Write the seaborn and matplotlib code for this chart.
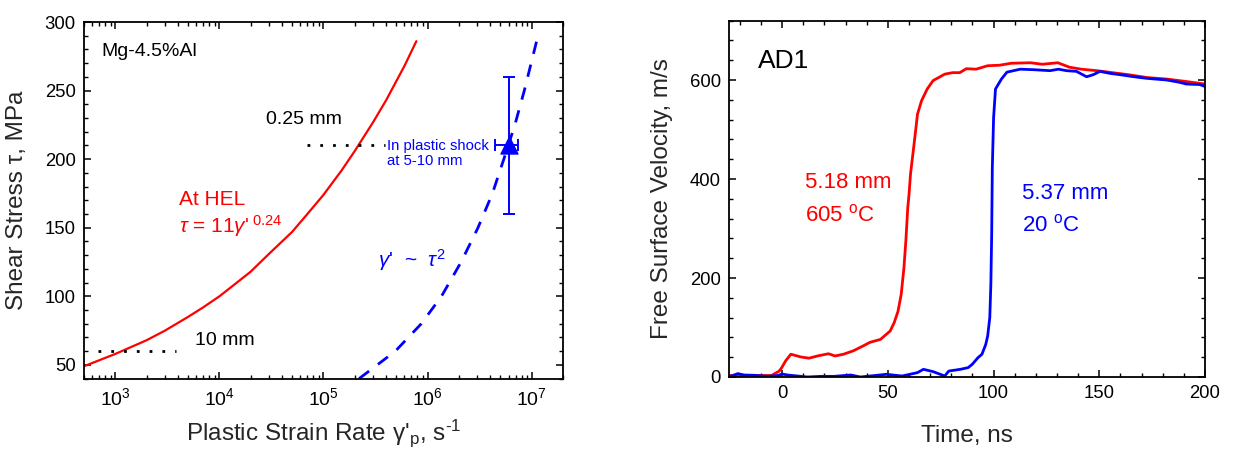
import numpy as np
import pandas as pd
import matplotlib
matplotlib.use("Agg")
import matplotlib.pyplot as plt
import matplotlib.ticker as mticker
import seaborn as sns

# ---------------- data ----------------
# Left panel: shear stress vs plastic strain rate
hel_rate = [500, 1e3, 2e3, 3e3, 5e3, 7e3, 1e4, 1.5e4, 2e4, 3e4, 5e4, 7e4, 1e5, 1.5e5,
            2e5, 3e5, 4e5, 6e5, 7.8e5]
hel_tau = [49, 58, 68, 75, 85, 92, 100, 110.5, 118, 131, 147, 160, 174, 192,
           206, 227, 243, 268, 286]

shock_tau = [40, 60, 80, 100, 125, 150, 175, 200, 225, 250, 290]
shock_rate = [2.2e5, 4.9e5, 8.7e5, 1.36e6, 2.1e6, 3.05e6, 4.2e6, 5.4e6, 6.9e6, 8.5e6, 1.15e7]

point_rate = [6.0e6]
point_tau = [210]
point_tau_err = [50]
point_rate_err_lo = [1.55e6]
point_rate_err_hi = [1.45e6]

thick_025_rate = [6.9e4, 3.9e5]
thick_025_tau = [210, 210]
thick_10_rate = [675, 3.85e3]
thick_10_tau = [60, 60]

# Right panel: free surface velocity traces
red_t = [-25, -15, -5, -1.4, -0.2, 1.7, 4.1, 8.8, 12.7, 16.7, 21.9, 25, 29, 33.7, 38.4, 41.5,
         46.5, 51.1, 53, 54.8, 56.3, 57.6, 58.5, 59.4, 60, 60.7, 62.2, 63.1, 64, 65.9, 68.6,
         71.4, 76.9, 80.6, 84, 87.1, 91.7, 97.2, 102.8, 108.3, 117.5, 123, 130.4, 135.9,
         141.5, 148.9, 156.2, 163.6, 172.8, 182.1, 191.3, 200]
red_v = [3, 3, 3, 12, 19, 33, 46, 40.5, 38, 42.5, 47, 42.5, 46, 53, 63, 70,
         76, 93, 110, 133, 167, 221, 275, 342, 369, 410, 464, 497, 531, 558, 582,
         599, 612, 615, 615, 623, 622, 629, 630, 634, 635, 632, 635, 626,
         622, 619, 615, 611, 605, 602, 597, 592]

blue_t = [-25, -24, -21, -18, -13, -7, -2, 0, 2.5, 12, 18.3, 24.6, 32.4, 37, 49.3, 56.7, 64,
          66.8, 71.4, 76.9, 78.8, 84.3, 88, 89.9, 92.6, 94.5, 96.3, 97.2, 98.2, 98.7, 99.1,
          99.4, 100, 100.9, 103.7, 106.3, 112.6, 118.9, 126.7, 130.7, 134.5, 139.2, 144,
          147.2, 150.3, 155, 159.8, 166, 172.3, 181.8, 188, 191.2, 197.5, 200]
blue_v = [0, 2, 6.8, 4, 3.4, 1.3, 3, 6, 4, 0, 1.3, 1.3, 4, 0, 5.4, 2, 8.8,
          15.5, 10.8, 2, 12, 15.5, 19, 25.6, 39, 46, 66, 83, 120, 187, 288,
          423, 524, 582, 602, 616, 622, 621, 619, 622, 619, 617.6, 606.7,
          611, 617.6, 613.6, 610.9, 607, 603.6, 600.2, 595.5, 592, 591, 587]

# ---------------- style ----------------
sns.set_theme(style="ticks")
plt.rcParams["font.family"] = ["Liberation Sans", "DejaVu Sans"]
plt.rcParams["mathtext.fontset"] = "custom"
plt.rcParams["mathtext.rm"] = "Liberation Sans"
plt.rcParams["mathtext.it"] = "Liberation Sans:italic"
plt.rcParams["mathtext.default"] = "regular"

RED = "#ff0000"
BLUE = "#0000ff"

fig = plt.figure(figsize=(12.33, 4.51), dpi=100)
axL = fig.add_axes([0.0681, 0.1605, 0.3885, 0.7907])
axR = fig.add_axes([0.5915, 0.1641, 0.3858, 0.790])

for ax in (axL, axR):
    for s in ax.spines.values():
        s.set_linewidth(1.3)
        s.set_color("black")
    ax.tick_params(which="both", direction="in", top=True, right=True,
                   colors="black", labelsize=13.3, pad=6)
    ax.tick_params(which="major", length=4.8, width=1.1)
    ax.tick_params(which="minor", length=3.0, width=1.0)

# ---------------- left panel ----------------
axL.set_xscale("log")
sns.lineplot(x=hel_rate, y=hel_tau, ax=axL, color=RED, lw=1.6, estimator=None, sort=False)
sns.lineplot(x=shock_rate, y=shock_tau, ax=axL, color=BLUE, lw=2.0, estimator=None,
             sort=False, dashes=False)
axL.lines[-1].set_linestyle((0, (4.5, 4)))
sns.lineplot(x=thick_025_rate, y=thick_025_tau, ax=axL, color="black", lw=2.0, estimator=None)
axL.lines[-1].set_linestyle((0, (1, 3.6)))
sns.lineplot(x=thick_10_rate, y=thick_10_tau, ax=axL, color="black", lw=2.0, estimator=None)
axL.lines[-1].set_linestyle((0, (1, 3.6)))

axL.errorbar(point_rate, point_tau, yerr=point_tau_err,
             xerr=[point_rate_err_lo, point_rate_err_hi], fmt="none",
             ecolor=BLUE, elinewidth=1.4, capsize=4.5, capthick=1.4)
sns.scatterplot(x=point_rate, y=point_tau, ax=axL, marker="^", s=150, color=BLUE,
                edgecolor=BLUE, zorder=5)

axL.set_xlim(500, 2e7)
axL.set_ylim(40, 300)
axL.yaxis.set_major_locator(mticker.MultipleLocator(50))
axL.yaxis.set_minor_locator(mticker.MultipleLocator(10))
axL.xaxis.set_major_locator(mticker.LogLocator(base=10, numticks=10))
axL.xaxis.set_minor_locator(mticker.LogLocator(base=10, subs=np.arange(2, 10), numticks=20))
axL.xaxis.set_minor_formatter(mticker.NullFormatter())
axL.set_yticks([50, 100, 150, 200, 250, 300])
axL.tick_params(axis="x", which="major", labelsize=14)

axL.set_xlabel("Plastic Strain Rate γ'$_{p}$, s$^{‐1}$", fontsize=17.5, labelpad=6)
axL.set_ylabel("Shear Stress τ, MPa", fontsize=17.5, labelpad=12)

axL.text(730, 275, "Mg-4.5%Al", fontsize=14, color="black")
axL.text(2.79e4, 225.5, "0.25 mm", fontsize=14, color="black")
axL.text(5.77e3, 64.5, "10 mm", fontsize=14, color="black")
axL.text(4.1e3, 166.5, "At HEL", fontsize=15, color=RED)
axL.text(4.1e3, 146, r"$\mathit{\tau}$ = 11$\mathit{\gamma}$'$^{\ 0.24}$", fontsize=15, color=RED)
axL.text(4.06e5, 195.5, "In plastic shock\nat 5-10 mm", fontsize=10.7, color=BLUE,
         linespacing=1.15, va="baseline")
axL.text(3.35e5, 121.5, r"$\mathit{\gamma}$'  ~  $\mathit{\tau}^{2}$", fontsize=15, color=BLUE)

# ---------------- right panel ----------------
sns.lineplot(x=red_t, y=red_v, ax=axR, color=RED, lw=2.0, estimator=None, sort=False)
sns.lineplot(x=blue_t, y=blue_v, ax=axR, color=BLUE, lw=2.0, estimator=None, sort=False)

axR.set_xlim(-25, 200)
axR.set_ylim(0, 720)
axR.xaxis.set_major_locator(mticker.MultipleLocator(50))
axR.xaxis.set_minor_locator(mticker.MultipleLocator(10))
axR.yaxis.set_major_locator(mticker.FixedLocator([0, 200, 400, 600]))
axR.yaxis.set_minor_locator(mticker.MultipleLocator(40))

axR.set_xlabel("Time, ns", fontsize=17.5, labelpad=16)
axR.set_ylabel("Free Surface Velocity, m/s", fontsize=17.5, labelpad=12)

axR.text(-11.6, 625, "AD1", fontsize=19, color="black")
axR.text(10.6, 381, "5.18 mm", fontsize=16, color=RED)
axR.text(10.6, 315, "605 $^{o}$C", fontsize=16, color=RED)
axR.text(113.4, 359, "5.37 mm", fontsize=16, color=BLUE)
axR.text(113.4, 294, "20 $^{o}$C", fontsize=16, color=BLUE)

fig.savefig("out.png", dpi=100)
